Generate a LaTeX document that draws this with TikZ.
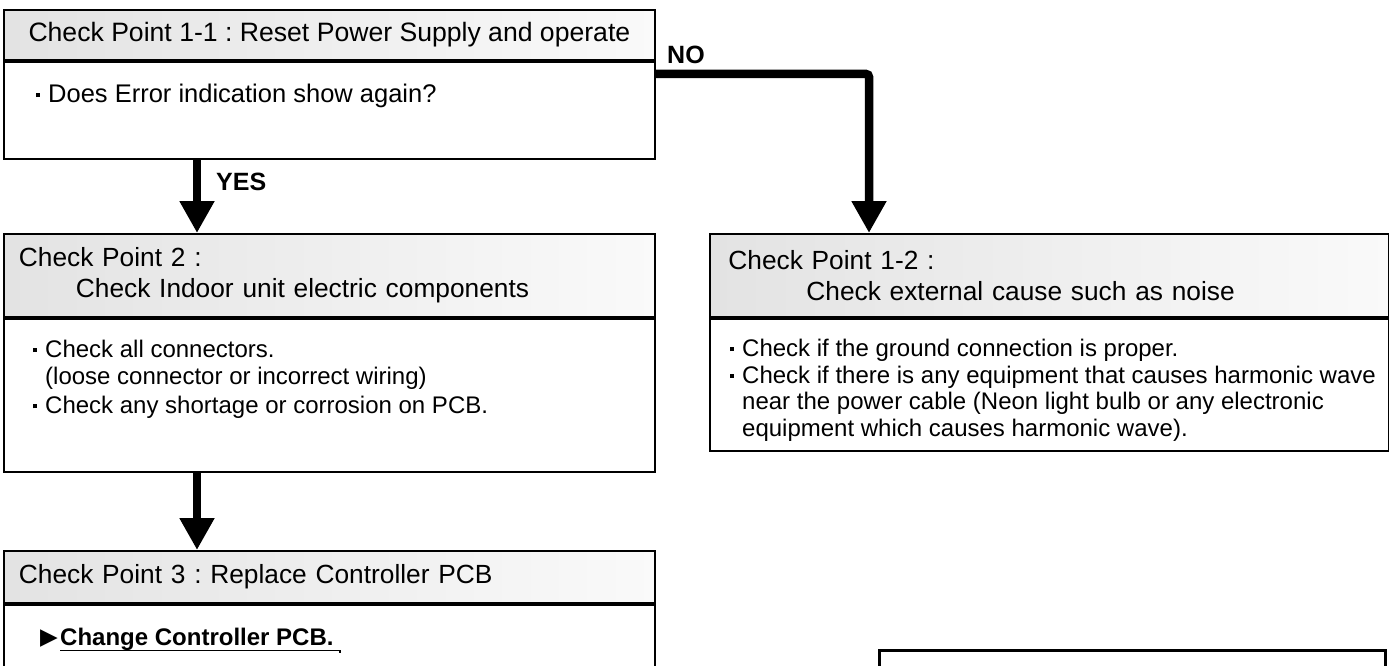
\documentclass[tikz,border=0pt]{standalone}
\usepackage{fontspec}
\setmainfont{Liberation Sans}
\newfontfamily\symfont{DejaVu Sans}
\usetikzlibrary{arrows.meta, positioning, calc}
\frenchspacing

\newcommand{\bul}{\rule[5.5pt]{4pt}{4pt}\hspace{8pt}}
\newcommand{\ind}{\hspace*{12pt}}

\begin{document}
\begin{tikzpicture}[
    x=1pt, y=-1pt,
    >={Triangle[width=33pt, length=32pt]},
    hdr/.style={draw, line width=1.8pt, left color=black!11, right color=black!2, anchor=north west, align=left, inner ysep=0pt, font=\fontsize{26.3}{31}\selectfont},
    bdy/.style={draw, line width=1.8pt, fill=white, anchor=north west, inner sep=0pt},
    txt/.style={anchor=north west, align=left, inner sep=0pt, font=\fontsize{24}{26.7}\selectfont},
    flow/.style={->, line width=8.5pt},
    lbl/.style={font=\fontsize{25}{30}\selectfont\bfseries, inner sep=0pt},
]
    \useasboundingbox (0,0) rectangle (1389,666);
    \clip (0,0) rectangle (1389,666);

    % Check point 1-1
    \node[hdr, minimum width=651pt, inner xsep=4pt, minimum height=50pt, font=\fontsize{26.6}{31}\selectfont] (cp11h) at (3,9) {Check Point 1-1 : Reset Power Supply and operate};
    \node[bdy, minimum width=651pt, minimum height=97pt] (cp11) at (cp11h.south west) {};
    \node[txt, font=\fontsize{25.5}{28}\selectfont] (cp11t) at (36,84) {\bul Does Error indication show again?};

    % Check point 2
    \node[hdr, text width=621pt, inner xsep=15pt, minimum height=83pt] (cp2h) at (3,233) {Check Point 2 :\\\hspace*{57pt}Check Indoor unit electric components};
    \node[bdy, minimum width=651pt, minimum height=153pt] (cp2) at (cp2h.south west) {};
    \node[txt] (cp2t) at (33,340) {\bul Check all connectors.\\\ind(loose connector or incorrect wiring)\\[3pt]\bul Check any shortage or corrosion on PCB.};

    % Check point 1-2
    \node[hdr, text width=642pt, inner xsep=18.5pt, minimum height=83pt] (cp12h) at (709,233) {Check Point 1-2 :\\\hspace*{78pt}Check external cause such as noise};
    \node[bdy, minimum width=679pt, minimum height=132pt] (cp12) at (cp12h.south west) {};
    \node[txt] (cp12t) at (730,339) {\bul Check if the ground connection is proper.\\\bul Check if there is any equipment that causes harmonic wave\\\ind near the power cable (Neon light bulb or any electronic\\\ind equipment which causes harmonic wave).};

    % Check point 3
    \node[hdr, text width=621pt, inner xsep=15pt, minimum height=52pt] (cp3h) at (3,550) {Check Point 3 : Replace Controller PCB};
    \node[bdy, minimum width=651pt, minimum height=120pt] (cp3) at (cp3h.south west) {};
    \node[anchor=base west, inner sep=0pt, font=\fontsize{24}{28}\selectfont\bfseries] (chg) at (60,645) {Change Controller PCB.};
    \node[left=2pt of chg, inner sep=0pt, font=\fontsize{23}{26}\symfont] (tri) {▶};
    \draw[line width=1.5pt] (chg.south west) -- ($(chg.south east)+(6,0)$) -- ++(0,3);

    % next box, cut by the page
    \node[draw, line width=3pt, anchor=north west, minimum width=506pt, minimum height=60pt] (nextbox) at (878,649) {};

    % connectors
    \coordinate (yx) at (197,0);
    \coordinate (nx) at (869,74);
    \draw[flow] (cp11.south -| yx) -- (cp2h.north -| yx);
    \draw[flow] (cp2.south -| yx) -- (cp3h.north -| yx);
    \draw[flow, rounded corners=3pt] (cp11.east |- nx) -| (cp12h.north -| nx);
    \node[lbl, anchor=west] (yes) at (216,182) {YES};
    \node[lbl, anchor=west] (no) at (667,55) {NO};
\end{tikzpicture}
\end{document}
